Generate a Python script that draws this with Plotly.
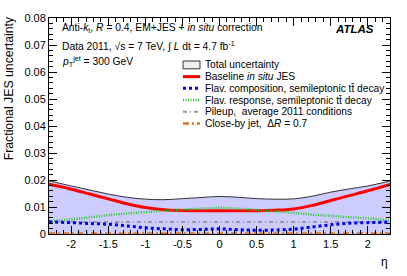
import plotly.graph_objects as go

eta = [-2.3, -2.0, -1.75, -1.5, -1.25, -1.0, -0.75, -0.5, -0.25, 0.0,
       0.25, 0.5, 0.75, 1.0, 1.25, 1.5, 1.75, 2.0, 2.3]
total = [0.0197, 0.0178, 0.0163, 0.0148, 0.0136, 0.0129, 0.0127, 0.0131, 0.0135, 0.0139,
         0.0136, 0.0131, 0.0129, 0.0130, 0.0140, 0.0155, 0.0167, 0.0178, 0.0196]
baseline = [0.0184, 0.0166, 0.0148, 0.0130, 0.0112, 0.0098, 0.0090, 0.0087, 0.0086, 0.0086,
            0.0086, 0.0086, 0.0088, 0.0093, 0.0106, 0.0124, 0.0142, 0.0160, 0.0184]
flav_comp = [0.0045, 0.0042, 0.0039, 0.0036, 0.0030, 0.0023, 0.0019, 0.0016, 0.0017, 0.0019,
             0.0016, 0.0014, 0.0015, 0.0018, 0.0026, 0.0034, 0.0040, 0.0042, 0.0044]
flav_resp = [0.0047, 0.0054, 0.0062, 0.0070, 0.0076, 0.0081, 0.0086, 0.0090, 0.0094, 0.0097,
             0.0094, 0.0089, 0.0084, 0.0078, 0.0072, 0.0067, 0.0062, 0.0058, 0.0049]
pileup = [0.0044] * len(eta)
closeby = [0.0002] * len(eta)

x_ticks = [-2, -1.5, -1, -0.5, 0, 0.5, 1, 1.5, 2]
x_tick_labels = ["-2", "-1.5", "-1", "-0.5", "0", "0.5", "1", "1.5", "2"]

legend_labels = [
    "Total uncertainty",
    "Baseline <i>in situ</i> JES",
    "Flav. composition, semileptonic tt\u0304 decay",
    "Flav. response, semileptonic tt\u0304 decay",
    "Pileup,  average 2011 conditions",
    "Close-by jet,  \u0394<i>R</i> = 0.7",
]

FONT = "Liberation Sans, Arial, sans-serif"

fig = go.Figure()
fig.add_trace(go.Scatter(x=eta, y=total, mode="lines", line=dict(color="#333333", width=1, shape="spline"),
                         fill="tozeroy", fillcolor="rgb(204,204,255)", showlegend=False))
styles = [
    (baseline, dict(color="#ff0000", width=3, shape="spline")),
    (flav_resp, dict(color="#22cc22", width=2.5, dash="1px,1.5px", shape="spline")),
    (pileup, dict(color="#999999", width=2, dash="4px,3px,1px,3px", shape="spline")),
    (flav_comp, dict(color="#0000ff", width=3, dash="3px,3px", shape="spline")),
    (closeby, dict(color="#dd7722", width=2.5, dash="6px,3px,2px,3px", shape="spline")),
]
for ys, ln in styles:
    fig.add_trace(go.Scatter(x=eta, y=ys, mode="lines", line=ln, showlegend=False, hoverinfo="skip"))

# plot-area pixel geometry for legend placement
L, R, T, B = 49, 390, 13, 234
def px(x):
    return (x - L) / (R - L)
def py(y):
    return (B - y) / (B - T)

shapes = []
annos = []
rows = [61, 73, 85, 97, 109, 121]
sample_styles = [
    None,
    dict(color="#ff0000", width=3),
    dict(color="#0000ff", width=3, dash="3px,3px"),
    dict(color="#22cc22", width=2.5, dash="1px,1.5px"),
    dict(color="#999999", width=2, dash="4px,3px,1px,3px"),
    dict(color="#dd7722", width=2.5, dash="6px,3px,2px,3px"),
]
for i, (lab, yr) in enumerate(zip(legend_labels, rows)):
    if i == 0:
        shapes.append(dict(type="rect", xref="paper", yref="paper", x0=px(183), x1=px(200),
                           y0=py(yr + 4), y1=py(yr - 4), fillcolor="#eeeeee",
                           line=dict(color="#333333", width=1)))
    else:
        shapes.append(dict(type="line", xref="paper", yref="paper", x0=px(183), x1=px(200),
                           y0=py(yr), y1=py(yr), line=sample_styles[i]))
    annos.append(dict(xref="paper", yref="paper", x=px(203), y=py(yr), text=lab, showarrow=False,
                      xanchor="left", yanchor="middle", font=dict(size=10.2, family=FONT, color="black")))

annos += [
    dict(xref="paper", yref="paper", x=px(60), y=py(24),
         text="Anti-<i>k</i><sub>t</sub>, <i>R</i> = 0.4, EM+JES + <i>in situ</i> correction",
         showarrow=False, xanchor="left", yanchor="middle", font=dict(size=10.3, family=FONT, color="black")),
    dict(xref="paper", yref="paper", x=px(60), y=py(41),
         text="Data 2011, \u221As = 7 TeV, \u222B <i>L</i> dt = 4.7 fb<sup>-1</sup>",
         showarrow=False, xanchor="left", yanchor="middle", font=dict(size=10.3, family=FONT, color="black")),
    dict(xref="paper", yref="paper", x=px(60), y=py(57),
         text="<i>p</i><sub>T</sub><sup>jet</sup> = 300 GeV",
         showarrow=False, xanchor="left", yanchor="middle", font=dict(size=10.3, family=FONT, color="black")),
    dict(xref="paper", yref="paper", x=px(376), y=py(24), text="<b><i>ATLAS</i></b>",
         showarrow=False, xanchor="right", yanchor="middle", font=dict(size=11.5, family=FONT, color="black")),
    dict(xref="paper", yref="paper", x=px(384), y=py(263), text="\u03b7",
         showarrow=False, xanchor="center", yanchor="middle", font=dict(size=12, family=FONT, color="black")),
    dict(xref="paper", yref="paper", x=px(9), y=py(85), text="Fractional JES uncertainty",
         textangle=-90, showarrow=False, xanchor="center", yanchor="middle",
         font=dict(size=12.3, family=FONT, color="black")),
]

fig.update_layout(
    width=407, height=276,
    margin=dict(l=L, r=407 - R, t=T, b=276 - B),
    paper_bgcolor="white", plot_bgcolor="white",
    font=dict(family=FONT, size=11, color="black"),
    shapes=shapes, annotations=annos, showlegend=False,
)
fig.update_xaxes(range=[-2.3, 2.3], tickmode="array", tickvals=x_ticks, ticktext=x_tick_labels,
                 ticks="inside", ticklen=8, tickwidth=1,
                 tickcolor="black", showline=True, linecolor="black", linewidth=1, mirror="ticks",
                 showgrid=False, zeroline=False, tickfont=dict(size=11),
                 minor=dict(ticks="inside", dtick=0.1, tick0=0, ticklen=4, tickcolor="black", showgrid=False))
fig.update_yaxes(range=[0, 0.08], dtick=0.01, ticks="inside", ticklen=8, tickwidth=1,
                 tickcolor="black", showline=True, linecolor="black", linewidth=1, mirror="ticks",
                 showgrid=False, zeroline=False, tickfont=dict(size=11),
                 minor=dict(ticks="inside", dtick=0.002, ticklen=4, tickcolor="black", showgrid=False))

fig.write_html("out.html", config={"displayModeBar": False},
               post_script="document.body.style.margin='0';document.body.style.overflow='hidden';")
